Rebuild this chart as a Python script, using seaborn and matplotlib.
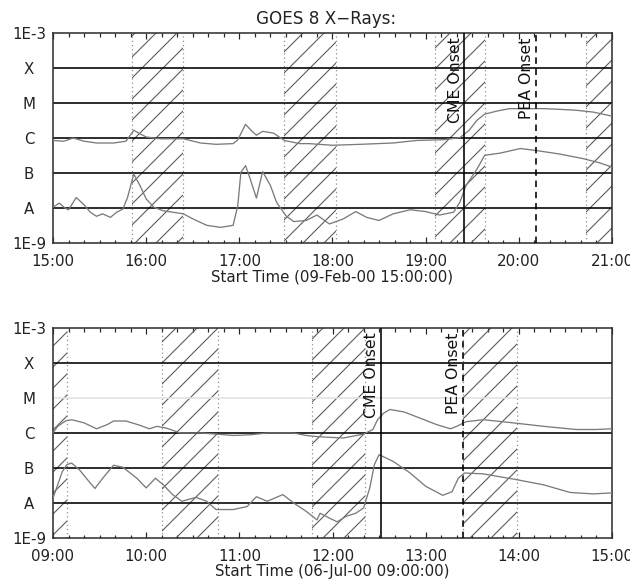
import matplotlib
matplotlib.use("Agg")
import matplotlib.pyplot as plt
from matplotlib.ticker import FixedLocator, MultipleLocator, FuncFormatter, NullLocator
import pandas as pd
import seaborn as sns

# ---------------------------------------------------------------
# GOES 8 X-ray flux (W m^-2); times are minutes after the start time
# ---------------------------------------------------------------
# 2000-02-09, start 15:00
feb_start = "15:00"
feb_long_min = [0, 7, 13, 20, 28, 39, 47, 52, 56, 60, 69, 84, 95, 105, 116, 119, 124,
                128, 131, 135, 142, 149, 159, 165, 180, 198, 219, 234, 251, 262, 268,
                273, 278, 286, 294, 305, 316, 326, 337, 348, 360]
feb_long_flux = [8.5e-7, 8.1e-7, 1.0e-6, 8.1e-7, 7.2e-7, 7.2e-7, 8.1e-7, 1.66e-6, 1.32e-6,
                 1.07e-6, 9.5e-7, 9.5e-7, 7.2e-7, 6.6e-7, 6.9e-7, 8.9e-7, 2.45e-6, 1.58e-6,
                 1.2e-6, 1.55e-6, 1.38e-6, 8.5e-7, 6.9e-7, 6.9e-7, 6.2e-7, 6.6e-7, 7.2e-7,
                 8.5e-7, 8.9e-7, 1.02e-6, 1.66e-6, 3.2e-6, 4.8e-6, 5.9e-6, 6.9e-6, 6.9e-6,
                 6.9e-6, 6.6e-6, 6.2e-6, 5.5e-6, 4.2e-6]
feb_short_min = [0, 4, 8, 10, 15, 20, 24, 28, 32, 37, 41, 45, 48, 52, 56, 60, 65, 71, 77,
                 84, 90, 99, 108, 116, 119, 121, 124, 127, 131, 135, 140, 144, 150, 155,
                 163, 170, 178, 187, 195, 202, 210, 219, 230, 240, 249, 258, 262, 266,
                 273, 278, 288, 301, 311, 326, 341, 352, 360]
feb_short_flux = [1.05e-8, 1.38e-8, 9.8e-9, 8.9e-9, 2.0e-8, 1.23e-8, 7.6e-9, 5.8e-9, 6.8e-9,
                  5.4e-9, 7.6e-9, 9.3e-9, 2.0e-8, 9.3e-8, 4.4e-8, 1.82e-8, 1.05e-8, 8.3e-9,
                  7.6e-9, 6.8e-9, 4.9e-9, 3.2e-9, 2.8e-9, 3.2e-9, 1.17e-8, 1.05e-7, 1.62e-7,
                  6.8e-8, 1.91e-8, 1.1e-7, 4.4e-8, 1.45e-8, 6.0e-9, 4.1e-9, 4.4e-9, 6.3e-9,
                  3.5e-9, 4.9e-9, 7.9e-9, 5.4e-9, 4.4e-9, 6.8e-9, 8.9e-9, 7.9e-9, 6.3e-9,
                  7.6e-9, 1.45e-8, 4.4e-8, 1.29e-7, 3.2e-7, 3.7e-7, 5.0e-7, 4.4e-7, 3.5e-7,
                  2.6e-7, 1.95e-7, 1.48e-7]
feb_gaps = [("15:51", "16:24"), ("17:29", "18:02"), ("19:06", "19:38"), ("20:43", "21:16")]
feb_cme = "19:25"
feb_pea = "20:11"

# 2000-07-06, start 09:00
jul_start = "09:00"
jul_long_min = [0, 3, 8, 12, 20, 28, 35, 39, 47, 56, 62, 67, 73, 82, 95, 105, 116, 127,
                138, 155, 163, 170, 176, 187, 200, 206, 209, 213, 217, 226, 236, 247, 256,
                260, 266, 277, 294, 316, 337, 350, 360]
jul_long_flux = [1.0e-6, 1.55e-6, 2.2e-6, 2.4e-6, 1.95e-6, 1.32e-6, 1.74e-6, 2.2e-6, 2.2e-6,
                 1.66e-6, 1.32e-6, 1.55e-6, 1.38e-6, 1.0e-6, 1.0e-6, 9.3e-7, 8.5e-7, 8.9e-7,
                 1.0e-6, 1.0e-6, 8.5e-7, 7.9e-7, 7.6e-7, 7.2e-7, 9.3e-7, 1.26e-6, 2.4e-6,
                 3.7e-6, 4.7e-6, 4.0e-6, 2.7e-6, 1.74e-6, 1.32e-6, 1.55e-6, 2.1e-6, 2.4e-6,
                 2.0e-6, 1.55e-6, 1.26e-6, 1.26e-6, 1.32e-6]
jul_short_min = [0, 3, 6, 9, 12, 17, 23, 27, 32, 39, 45, 54, 60, 66, 71, 77, 83, 92, 99,
                 105, 116, 125, 131, 138, 148, 155, 163, 170, 172, 178, 183, 189, 195, 200,
                 204, 207, 210, 219, 230, 240, 251, 257, 261, 265, 277, 290, 298, 316, 333,
                 348, 360]
jul_short_flux = [1.38e-8, 3.3e-8, 7.9e-8, 1.26e-7, 1.38e-7, 8.9e-8, 4.2e-8, 2.6e-8, 5.1e-8,
                  1.2e-7, 1.05e-7, 5.1e-8, 2.7e-8, 5.1e-8, 3.3e-8, 1.74e-8, 1.12e-8, 1.45e-8,
                  1.12e-8, 6.5e-9, 6.5e-9, 7.9e-9, 1.51e-8, 1.12e-8, 1.74e-8, 1.0e-8, 5.8e-9,
                  3.3e-9, 5.1e-9, 3.7e-9, 2.9e-9, 4.2e-9, 5.1e-9, 7.2e-9, 2.7e-8, 1.26e-7,
                  2.4e-7, 1.55e-7, 7.2e-8, 3.0e-8, 1.66e-8, 2.1e-8, 5.1e-8, 7.2e-8, 6.8e-8,
                  5.4e-8, 4.7e-8, 3.3e-8, 2.0e-8, 1.82e-8, 1.95e-8]
jul_gaps = [("08:33", "09:09"), ("10:10", "10:46"), ("11:47", "12:21"), ("13:24", "13:59")]
jul_cme = "12:31"
jul_pea = "13:24"

# flare classes marked on the flux axis
class_levels = [1e-9, 1e-8, 1e-7, 1e-6, 1e-5, 1e-4, 1e-3]
class_labels = ["1E-9", "A", "B", "C", "M", "X", "1E-3"]

DPI = 126
PX = 72.0 / DPI          # points per pixel
FS = 15 * PX             # text size (15 px)


def hours(hhmm):
    h, m = hhmm.split(":")
    return int(h) + int(m) / 60.0


def flux_frame(start, long_min, long_flux, short_min, short_flux):
    t0 = hours(start)
    long_df = pd.DataFrame({"hour": [t0 + m / 60.0 for m in long_min],
                            "flux": long_flux, "channel": "1-8 A"})
    short_df = pd.DataFrame({"hour": [t0 + m / 60.0 for m in short_min],
                             "flux": short_flux, "channel": "0.5-4 A"})
    return pd.concat([long_df, short_df], ignore_index=True)


def draw_panel(ax, start, df, gaps, cme, pea, xlabel, faint_m=False):
    t0 = hours(start)

    # data gaps: hatched bands bounded by dotted lines
    for a, b in gaps:
        ax.axvspan(hours(a), hours(b), facecolor="none", edgecolor="#5a5a5a",
                   hatch="//", linewidth=0, zorder=1)
        for edge in (a, b):
            ax.axvline(hours(edge), color="#8a8a8a", lw=1.2 * PX,
                       ls=(0, (1, 2.5)), zorder=1.5)

    # flare class levels
    for lvl in class_levels[1:-1]:
        col = "#e2e2e2" if (faint_m and lvl == 1e-5) else "black"
        ax.axhline(lvl, color=col, lw=1.6 * PX, zorder=2)

    sns.lineplot(data=df, x="hour", y="flux", hue="channel",
                 palette={"1-8 A": "#7a7a7a", "0.5-4 A": "#7a7a7a"},
                 estimator=None, sort=True, legend=False, lw=1.3 * PX, ax=ax, zorder=3)

    # event markers
    ax.axvline(hours(cme), color="black", lw=1.6 * PX, zorder=4)
    ax.axvline(hours(pea), color="black", lw=1.6 * PX, ls=(0, (4, 3)), zorder=4)
    for t, txt in ((cme, "CME Onset"), (pea, "PEA Onset")):
        ax.annotate(txt, xy=(hours(t), 1.0), xycoords=("data", "axes fraction"),
                    xytext=(-1.0, -2.5), textcoords="offset points",
                    rotation=90, ha="right", va="top", fontsize=FS * 1.05,
                    color="#111111", zorder=5)

    ax.set_yscale("log")
    ax.set_ylim(class_levels[0], class_levels[-1])
    ax.yaxis.set_major_locator(FixedLocator(class_levels))
    ax.yaxis.set_minor_locator(NullLocator())
    ax.set_yticklabels(class_labels)
    ax.tick_params(axis="y", which="both", length=0, pad=24 * PX, labelsize=FS,
                   labelcolor="#222222")
    for lab in ax.get_yticklabels():
        lab.set_horizontalalignment("center")
    ax.set_ylabel("")

    ax.set_xlim(t0, t0 + 6)
    ax.xaxis.set_major_locator(MultipleLocator(1))
    ax.xaxis.set_minor_locator(MultipleLocator(1 / 6))
    ax.xaxis.set_major_formatter(FuncFormatter(lambda v, _: f"{int(round(v)):02d}:00"))
    ax.tick_params(axis="x", which="major", direction="in", top=True, bottom=True,
                   length=6 * PX, width=1.2 * PX, pad=11 * PX, labelsize=FS,
                   labelcolor="#222222")
    ax.tick_params(axis="x", which="minor", direction="in", top=True, bottom=True,
                   length=3.5 * PX, width=1.2 * PX)
    ax.set_xlabel(xlabel, fontsize=FS, color="#222222", labelpad=0)

    for sp in ax.spines.values():
        sp.set_visible(True)
        sp.set_linewidth(1.6 * PX)
        sp.set_color("#333333")


sns.set_style("white")
plt.rcParams["font.family"] = ["DejaVu Sans"]
plt.rcParams["hatch.linewidth"] = 1.1 * PX

fig = plt.figure(figsize=(630 / DPI, 586 / DPI), dpi=DPI)
ax_top = fig.add_axes([53 / 630, 1 - 243 / 586, 559 / 630, 210 / 586])
ax_bot = fig.add_axes([53 / 630, 1 - 538 / 586, 559 / 630, 210 / 586])

draw_panel(ax_top, feb_start,
           flux_frame(feb_start, feb_long_min, feb_long_flux, feb_short_min, feb_short_flux),
           feb_gaps, feb_cme, feb_pea, "Start Time (09-Feb-00 15:00:00)")
draw_panel(ax_bot, jul_start,
           flux_frame(jul_start, jul_long_min, jul_long_flux, jul_short_min, jul_short_flux),
           jul_gaps, jul_cme, jul_pea, "Start Time (06-Jul-00 09:00:00)", faint_m=True)

fig.text(326 / 630, 1 - 19 / 586, "GOES 8 X\u2212Rays:", ha="center", va="center",
         fontsize=FS * 1.12, color="#222222")

fig.savefig("out.png", dpi=DPI)
